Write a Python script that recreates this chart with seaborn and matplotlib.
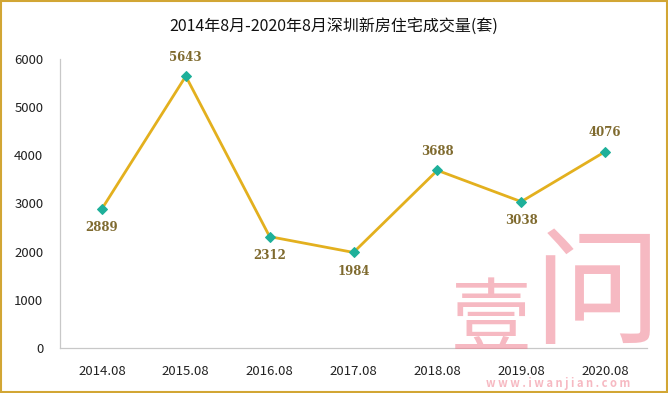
import matplotlib
matplotlib.use('Agg')
import matplotlib.pyplot as plt
import seaborn as sns
import pandas as pd
from matplotlib.patches import Rectangle

# 数据
months = ['2014.08', '2015.08', '2016.08', '2017.08', '2018.08', '2019.08', '2020.08']
volumes = [2889, 5643, 2312, 1984, 3688, 3038, 4076]
label_pos = ['below', 'above', 'below', 'below', 'above', 'below', 'above']

sns.set_style('white')
plt.rcParams['font.family'] = ['Noto Sans CJK SC', 'DejaVu Sans']

df = pd.DataFrame({'month': months, 'volume': volumes})

fig = plt.figure(figsize=(6.68, 3.93), dpi=100)

# 水印 (画在坐标轴下面)
fig.text(491 / 668, 1 - 322 / 393, '壹', ha='center', va='center', fontsize=58,
         color='#F08090', alpha=0.55, zorder=0)
fig.text(597 / 668, 1 - 298 / 393, '问', ha='center', va='center', fontsize=92,
         color='#F08090', alpha=0.55, zorder=0)
fig.text(0.835, 0.024, 'w w w . i w a n j i a n . c o m', ha='center', va='center',
         fontsize=8, color='#F08090', alpha=0.55, fontweight='bold')

ax = fig.add_axes([0.0898, 0.1145, 0.8788, 0.7354])
ax.patch.set_alpha(0)

sns.lineplot(data=df, x='month', y='volume', ax=ax, color='#E3B01E', linewidth=2,
             marker='D', markersize=5.5, markerfacecolor='#1EB09A', markeredgecolor='#1EB09A',
             sort=False)

# 数据标签
for i, (v, p) in enumerate(zip(volumes, label_pos)):
    off = 9 if p == 'above' else -9
    ax.annotate(str(v), (i, v), xytext=(0, off), textcoords='offset points',
                ha='center', va='bottom' if p == 'above' else 'top',
                fontsize=8.5, fontweight='bold', family='DejaVu Serif', color='#7F6A2E')

ax.set_xlim(-0.5, len(months) - 0.5)
ax.set_ylim(0, 6000)
ax.set_yticks(range(0, 6001, 1000))
ax.set_xticks(range(len(months)))
ax.set_xticks([i - 0.5 for i in range(len(months) + 1)], minor=True)
ax.tick_params(axis='x', which='major', length=0, pad=12, labelsize=9.5, colors='#222222')
ax.tick_params(axis='x', which='minor', length=4, color='#BBBBBB', direction='out')
ax.tick_params(axis='y', length=4, labelsize=9.5, colors='#222222', pad=8, direction='out')
ax.tick_params(axis='y', color='#BBBBBB')
ax.set_xlabel('')
ax.set_ylabel('')
sns.despine(ax=ax)
for s in ['left', 'bottom']:
    ax.spines[s].set_color('#C8C8C8')
    ax.spines[s].set_linewidth(0.9)

fig.text(0.5, 0.93, '2014年8月-2020年8月深圳新房住宅成交量(套)', ha='center', va='center',
         fontsize=11.5, color='#111111')

# 外框
fig.patches.append(Rectangle((0.002, 0.003), 0.996, 0.994, transform=fig.transFigure,
                             fill=False, edgecolor='#D2A634', linewidth=1.5))

fig.savefig('out.png', dpi=100)
